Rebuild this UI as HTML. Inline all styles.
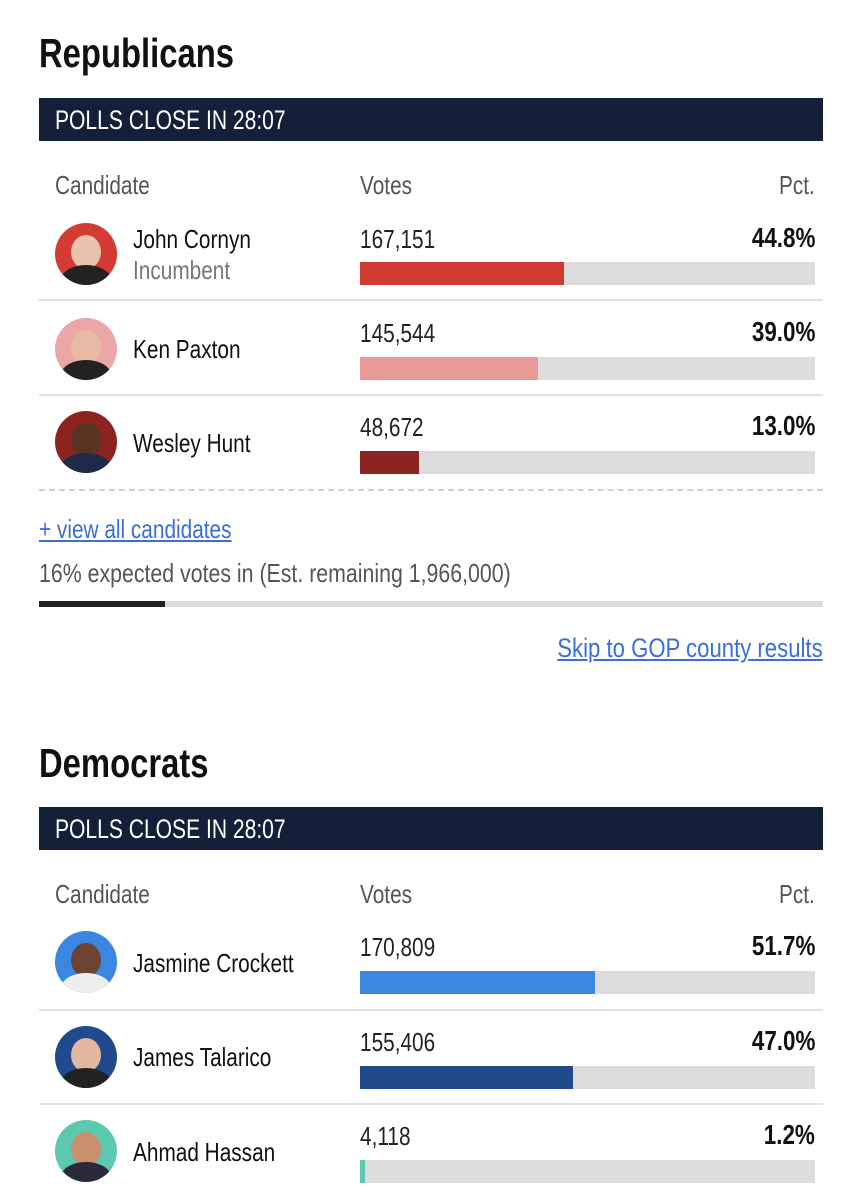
<!DOCTYPE html>
<html><head><meta charset="utf-8"><style>
body{margin:0;width:862px;height:1200px;background:#fff;position:relative;overflow:hidden;font-family:"Liberation Sans",sans-serif;color:#111}
.a{position:absolute;white-space:nowrap;transform:scaleX(.8);transform-origin:left top}
.r{transform-origin:right top}
.h{font-size:41px;font-weight:bold;left:39px}
.bar{position:absolute;left:39px;width:784px;height:43px;background:#14203a;}
.bar span{position:absolute;left:16px;top:0;color:#fff;font-size:27px;line-height:44px;white-space:nowrap;transform:scaleX(.78);transform-origin:left top}
.ch{font-size:26px;color:#555}
.nm{font-size:26px;left:133px}
.v{font-size:26px;left:360px;color:#222}
.p{font-size:28px;right:47px;font-weight:bold;top:-2px}
.g{position:absolute;left:360px;width:455px;height:23px;background:#dcdcdc}
.f{position:absolute;left:0;top:0;height:100%}
.sep{position:absolute;left:39px;width:784px;height:2px;background:#e2e2e2}
.av{position:absolute;left:55px;width:62px;height:62px;border-radius:50%;overflow:hidden}
.av i{position:absolute;left:16px;top:12px;width:30px;height:34px;border-radius:50%}
.av b{position:absolute;left:6px;top:42px;width:50px;height:30px;border-radius:50% 50% 0 0}
</style></head><body>
<div class="a h" style="top:30px">Republicans</div>
<div class="bar" style="top:98px"><span>POLLS CLOSE IN 28:07</span></div>
<div class="a ch" style="left:55px;top:170px">Candidate</div>
<div class="a ch" style="left:360px;top:170px">Votes</div>
<div class="a ch r" style="right:47px;top:170px">Pct.</div>

<div class="av" style="top:223px;background:#d43b32"><i style="background:#e8c3ad"></i><b style="background:#222"></b></div>
<div class="a nm" style="top:224px">John Cornyn</div>
<div class="a nm" style="top:255px;color:#777">Incumbent</div>
<div class="a v" style="top:224px">167,151</div>
<div class="a p r" style="top:222px">44.8%</div>
<div class="g" style="top:262px"><div class="f" style="width:204px;background:#d03a30"></div></div>
<div class="sep" style="top:299px"></div>

<div class="av" style="top:318px;background:#eba7a5"><i style="background:#e7bba3"></i><b style="background:#222"></b></div>
<div class="a nm" style="top:334px">Ken Paxton</div>
<div class="a v" style="top:318px">145,544</div>
<div class="a p r" style="top:316px">39.0%</div>
<div class="g" style="top:357px"><div class="f" style="width:178px;background:#e89a98"></div></div>
<div class="sep" style="top:394px"></div>

<div class="av" style="top:411px;background:#8b2420"><i style="background:#5a3222"></i><b style="background:#1e2a4a"></b></div>
<div class="a nm" style="top:428px">Wesley Hunt</div>
<div class="a v" style="top:412px">48,672</div>
<div class="a p r" style="top:410px">13.0%</div>
<div class="g" style="top:451px"><div class="f" style="width:59px;background:#8b2420"></div></div>
<div style="position:absolute;left:39px;width:784px;top:489px;border-top:2px dashed #d0d0d0"></div>

<div class="a" style="left:39px;top:514px;font-size:26px;color:#3a6fd8;text-decoration:underline">+ view all candidates</div>
<div class="a" style="left:39px;top:558px;font-size:26px;color:#555;transform:scaleX(.82)">16% expected votes in (Est. remaining 1,966,000)</div>
<div style="position:absolute;left:39px;top:601px;width:784px;height:6px;background:#dcdcdc"><div style="width:126px;height:100%;background:#222"></div></div>
<div class="a r" style="right:39px;top:633px;font-size:27px;color:#3a6fd8;text-decoration:underline;transform:scaleX(.82)">Skip to GOP county results</div>

<div class="a h" style="top:740px">Democrats</div>
<div class="bar" style="top:807px"><span>POLLS CLOSE IN 28:07</span></div>
<div class="a ch" style="left:55px;top:879px">Candidate</div>
<div class="a ch" style="left:360px;top:879px">Votes</div>
<div class="a ch r" style="right:47px;top:879px">Pct.</div>

<div class="av" style="top:931px;background:#3a86e0"><i style="background:#6b4330"></i><b style="background:#eee"></b></div>
<div class="a nm" style="top:948px">Jasmine Crockett</div>
<div class="a v" style="top:932px">170,809</div>
<div class="a p r" style="top:930px">51.7%</div>
<div class="g" style="top:971px"><div class="f" style="width:235px;background:#3a86e0"></div></div>
<div class="sep" style="top:1009px"></div>

<div class="av" style="top:1026px;background:#1f4a8c"><i style="background:#e2b9a0"></i><b style="background:#222"></b></div>
<div class="a nm" style="top:1042px">James Talarico</div>
<div class="a v" style="top:1027px">155,406</div>
<div class="a p r" style="top:1025px">47.0%</div>
<div class="g" style="top:1066px"><div class="f" style="width:213px;background:#1f4a8c"></div></div>
<div class="sep" style="top:1103px"></div>

<div class="av" style="top:1120px;background:#5cc8b0"><i style="background:#c99070"></i><b style="background:#2a2a3a"></b></div>
<div class="a nm" style="top:1137px">Ahmad Hassan</div>
<div class="a v" style="top:1121px">4,118</div>
<div class="a p r" style="top:1119px">1.2%</div>
<div class="g" style="top:1160px"><div class="f" style="width:5px;background:#5cc8b0"></div></div>
</body></html>
